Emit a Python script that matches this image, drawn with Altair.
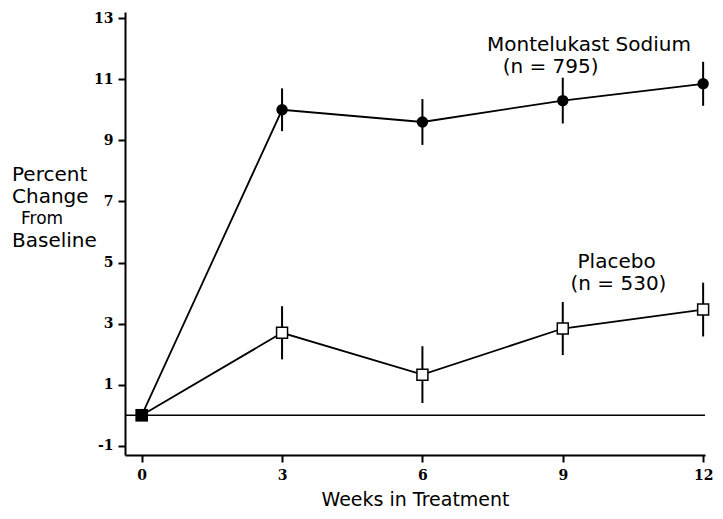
import altair as alt
import pandas as pd

weeks = [0, 3, 6, 9, 12]
mont_vals = [0.0, 10.0, 9.6, 10.3, 10.85]
mont_err = [0.0, 0.7, 0.75, 0.75, 0.72]
plac_vals = [0.0, 2.7, 1.33, 2.84, 3.46]
plac_err = [0.0, 0.87, 0.93, 0.87, 0.88]

x_ticks = [0, 3, 6, 9, 12]
y_ticks = [-1, 1, 3, 5, 7, 9, 11, 13]

ann_text = ["Montelukast Sodium", "(n = 795)", "Placebo", "(n = 530)"]
ann_x = [9.56, 8.74, 10.15, 10.19]
ann_y = [12.11, 11.39, 5.03, 4.31]

ytitle_lines = ["Percent", "Change", "From", "Baseline"]
ytitle_x = [-113, -113, -104, -113]
ytitle_y = [163, 185, 207, 229]
ytitle_size = [20, 20, 17, 20]

rows = []
for w, m, me, p, pe in zip(weeks, mont_vals, mont_err, plac_vals, plac_err):
    rows.append({"week": w, "val": m, "lo": m - me, "hi": m + me, "series": "Montelukast"})
    rows.append({"week": w, "val": p, "lo": p - pe, "hi": p + pe, "series": "Placebo"})
df = pd.DataFrame(rows)

X_DOM = [-0.357, 12.04]
Y_DOM = [-1.3, 13.2]

xs = alt.Scale(domain=X_DOM, nice=False, zero=False)
ys = alt.Scale(domain=Y_DOM, nice=False, zero=False)

TEXT_FONT = "DejaVu Sans"
TICK_FONT = "DejaVu Serif"

xax = alt.Axis(values=x_ticks, title="Weeks in Treatment", grid=False,
               labelFont=TICK_FONT, labelFontWeight="bold", labelFontSize=14,
               labelColor="black", domainColor="black", domainWidth=2, tickColor="black",
               tickWidth=2, tickSize=7, labelPadding=6, titleFont=TEXT_FONT,
               titleFontSize=19, titleFontWeight="normal", titleColor="black", titlePadding=8)
yax = alt.Axis(values=y_ticks, title=None, grid=False, labelExpr="'' + datum.value",
               labelFont=TICK_FONT, labelFontWeight="bold", labelFontSize=14,
               labelColor="black", domainColor="black", domainWidth=2, tickColor="black",
               tickWidth=2, tickSize=7, labelPadding=5)

base = alt.Chart(df)

zero_rule = alt.Chart(pd.DataFrame({"y": [0]})).mark_rule(color="black", strokeWidth=1.5).encode(
    y=alt.Y("y:Q", scale=ys, axis=yax))

err = base.transform_filter("datum.week > 0").mark_rule(color="black", strokeWidth=2).encode(
    x=alt.X("week:Q", scale=xs, axis=xax),
    y=alt.Y("lo:Q", scale=ys),
    y2="hi:Q")

lines = base.mark_line(color="black", strokeWidth=1.8).encode(
    x=alt.X("week:Q", scale=xs),
    y=alt.Y("val:Q", scale=ys),
    detail="series:N")

mont_pts = base.transform_filter("datum.series == 'Montelukast' && datum.week > 0").mark_point(
    shape="circle", filled=True, color="black", size=130, opacity=1).encode(
    x=alt.X("week:Q", scale=xs), y=alt.Y("val:Q", scale=ys))

plac_pts = base.transform_filter("datum.series == 'Placebo' && datum.week > 0").mark_point(
    shape="square", filled=True, fill="white", stroke="black", strokeWidth=1.5, size=120, opacity=1).encode(
    x=alt.X("week:Q", scale=xs), y=alt.Y("val:Q", scale=ys))

base_pt = base.transform_filter("datum.series == 'Placebo' && datum.week == 0").mark_point(
    shape="square", filled=True, color="black", size=160, opacity=1).encode(
    x=alt.X("week:Q", scale=xs), y=alt.Y("val:Q", scale=ys))

ann = alt.Chart(pd.DataFrame({"t": ann_text, "x": ann_x, "y": ann_y})).mark_text(
    font=TEXT_FONT, fontSize=20, color="black", align="center", baseline="middle").encode(
    x=alt.X("x:Q", scale=xs), y=alt.Y("y:Q", scale=ys), text="t:N")

ytitle = alt.Chart(pd.DataFrame({"t": ytitle_lines, "px": ytitle_x, "py": ytitle_y, "fs": ytitle_size})).mark_text(
    font=TEXT_FONT, color="black", align="left", baseline="middle").encode(
    x=alt.X("px:Q", scale=None), y=alt.Y("py:Q", scale=None), text="t:N",
    size=alt.Size("fs:Q", scale=None, legend=None))

chart = alt.layer(zero_rule, err, lines, mont_pts, plac_pts, base_pt, ann, ytitle).properties(
    width=580, height=443,
    autosize=alt.AutoSizeParams(type="none"),
    padding={"left": 117, "top": 4, "right": 10, "bottom": 56},
    background="white",
).configure_view(stroke=None)

chart.save("out.html", embed_options={"renderer": "svg", "actions": False})
